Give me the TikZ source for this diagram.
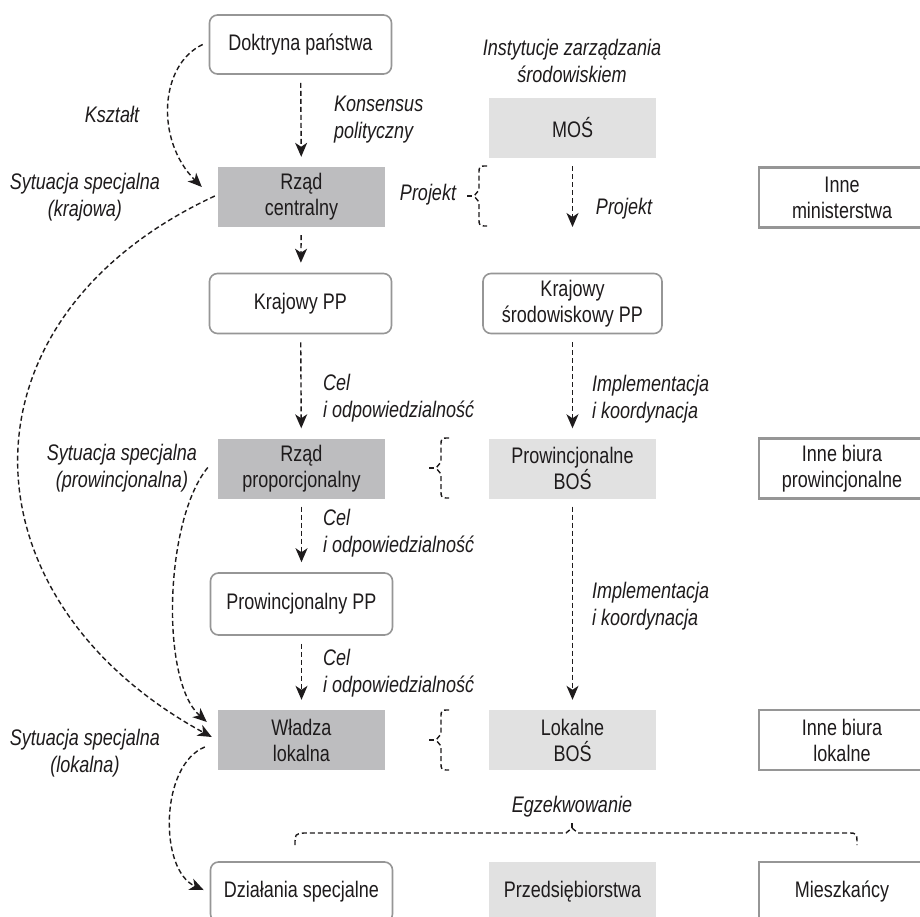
\documentclass[tikz,border=0pt]{standalone}
\usepackage{fontspec}
\setmainfont{Liberation Sans}[FakeStretch=0.8]
\usetikzlibrary{arrows.meta,calc}
\definecolor{darkbox}{RGB}{189,189,191}
\definecolor{lightbox}{RGB}{225,225,225}
\definecolor{rim}{RGB}{150,150,150}
\definecolor{ink}{RGB}{30,27,28}
\tikzset{
  every node/.style={font=\fontsize{22.5}{26}\selectfont,text=ink,align=center,inner sep=0pt},
  rbox/.style={draw=rim,line width=1.6pt,rounded corners=8pt,minimum width=182pt,minimum height=60pt},
  dbox/.style={fill=darkbox,minimum width=167pt,minimum height=60pt},
  lbox/.style={fill=lightbox,minimum width=167pt,minimum height=60pt},
  obox/.style={draw=rim,line width=2.4pt,minimum width=166pt,minimum height=60pt},
  lbl/.style={font=\fontsize{22.5}{27}\selectfont\itshape},
  link/.style={draw=ink,line width=1.4pt,dash pattern=on 5pt off 3pt},
  arr/.style={link,-{Stealth[length=14pt,width=12pt,inset=4pt]}},
  flow/.style={arr,shorten <=8pt,shorten >=10pt}
}

\begin{document}
\begin{tikzpicture}[x=1pt,y=-1pt]
\clip (0,0) rectangle (920,917);
\fill[white] (0,0) rectangle (920,917);

\node[rbox,minimum height=59pt] (doktryna) at (300.5,44.5) {Doktryna państwa};
\node[dbox] (rzadc) at (301.5,197) {Rząd\\centralny};
\node[lbox] (mos) at (572.5,128) {MOŚ};
\node[obox] (inneMin) at (842,197.5) {Inne\\ministerstwa};
\node[rbox] (krajPP) at (300.5,303.5) {Krajowy PP};
\node[rbox,minimum width=179pt] (krajSrod) at (572.5,303.5) {Krajowy\\środowiskowy PP};
\node[dbox] (rzadp) at (301.5,468.5) {Rząd\\proporcjonalny};
\node[lbox] (provBOS) at (572.5,468.5) {Prowincjonalne\\BOŚ};
\node[obox] (inneProv) at (842,468.5) {Inne biura\\prowincjonalne};
\node[rbox,minimum height=62pt] (provPP) at (301.5,604) {Prowincjonalny PP};
\node[dbox] (wladza) at (301.5,740) {Władza\\lokalna};
\node[lbox] (lokBOS) at (572.5,740) {Lokalne\\BOŚ};
\node[obox] (inneLok) at (842,740) {Inne biura\\lokalne};
\node[rbox] (dzial) at (301.5,892) {Działania specjalne};
\node[lbox] (przeds) at (572.5,892) {Przedsiębiorstwa};
\node[obox] (mieszk) at (842,892) {Mieszkańcy};

\node[lbl] (inst) at (572,61) {Instytucje zarządzania\\środowiskiem};
\node[lbl,anchor=west,align=left] (konsensus) at (334,120) {Konsensus\\polityczny};
\node[lbl] (ksztalt) at (112,114) {Kształt};
\node[lbl] (sytKraj) at (85,197) {Sytuacja specjalna\\(krajowa)};
\node[lbl] (projL) at (428,195) {Projekt};
\node[lbl] (projR) at (624,209) {Projekt};
\node[lbl,anchor=west,align=left] (celA) at (323,398) {Cel\\i odpowiedzialność};
\node[lbl,anchor=west,align=left] (implA) at (592,399) {Implementacja\\i koordynacja};
\node[lbl] (sytProv) at (122,468) {Sytuacja specjalna\\(prowincjonalna)};
\node[lbl,anchor=west,align=left] (celB) at (323,533) {Cel\\i odpowiedzialność};
\node[lbl,anchor=west,align=left] (implB) at (592,606) {Implementacja\\i koordynacja};
\node[lbl,anchor=west,align=left] (celC) at (323,673) {Cel\\i odpowiedzialność};
\node[lbl] (sytLok) at (85,753) {Sytuacja specjalna\\(lokalna)};
\node[lbl] (egz) at (572,807) {Egzekwowanie};

\coordinate (mosEnd) at (572.5,227);
\draw[flow] (doktryna) -- (rzadc);
\draw[flow] (rzadc) -- (krajPP);
\draw[arr,shorten <=8pt] (mos) -- (mosEnd);
\draw[flow] (krajPP) -- (rzadp);
\draw[flow] (krajSrod) -- (provBOS);
\draw[flow] (rzadp) -- (provPP);
\draw[flow] (provPP) -- (wladza);
\draw[flow] (provBOS) -- (lokBOS);

\draw[arr] ($(doktryna.west)+(-6,0)$) .. controls +(-43,20) and +(-47,-47) .. ($(rzadc.west)+(-16,-10)$);
\draw[arr] ($(rzadc.west)+(-3,-1)$) .. controls +(-267,124) and +(-252,-137) .. ($(wladza.west)+(-6,-3)$);
\draw[arr] ($(rzadp.west)+(-10,-1)$) .. controls +(-43,52) and +(-47,-42) .. ($(wladza.west)+(-11,-18)$);
\draw[arr] ($(wladza.west)+(-13,7)$) .. controls +(-45,18) and +(-45,-20) .. ($(dzial.west)+(-6,-2)$);

\foreach \bx/\by in {479/196,441/468,441/740}{
  \draw[link] (\bx+8,\by-30) .. controls (\bx,\by-30) .. (\bx,\by-22) -- (\bx,\by-6) -- (\bx-5,\by) -- (\bx,\by+6) -- (\bx,\by+22) .. controls (\bx,\by+30) .. (\bx+8,\by+30);
  \draw[link] (\bx-12,\by) -- (\bx-6,\by);
}
\draw[link] (295,845) .. controls (295,834) .. (304,833) -- (566,833) -- (572,828) -- (578,833) -- (848,833) .. controls (857,833) .. (857,845);
\draw[link] (572,828) -- (572,822);
\end{tikzpicture}
\end{document}
